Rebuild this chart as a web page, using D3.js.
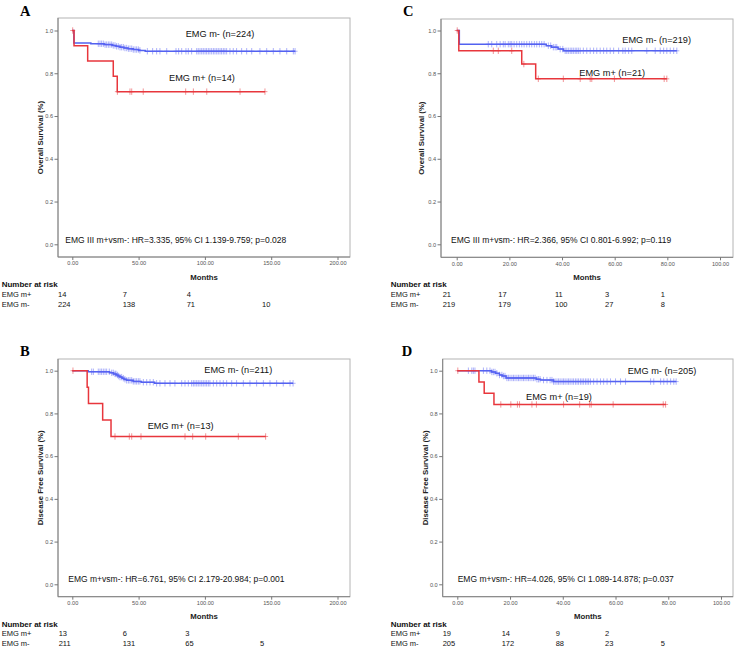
<!DOCTYPE html>
<html><head><meta charset="utf-8">
<script src="https://cdn.jsdelivr.net/npm/d3@7"></script>
<style>
body{margin:0;background:#fff;}
svg{display:block;font-family:"Liberation Sans",Arial,sans-serif;}
</style>
</head><body>
<svg id="chart" width="738" height="648"></svg>
<script>
// ---------------- DATA ----------------
const yTicks = [0, 0.2, 0.4, 0.6, 0.8, 1.0];
const groupNames = ["EMG m+", "EMG m-"];

// Panel A (Overall survival, EMG III)
const aXTicks = [0, 50, 100, 150, 200];
const aPlusT = [0, 1.3, 11.6, 30.9, 33.9];
const aPlusS = [1, 0.929, 0.857, 0.786, 0.714];
const aPlusCens = [0.3, 34, 43.5, 44.8, 53.5, 85.5, 91.3, 101.4, 126.5, 145.3];
const aMinusT = [0, 1.2, 14, 24, 30, 33, 36, 39, 42, 46, 50, 55];
const aMinusS = [1, 0.942, 0.938, 0.934, 0.930, 0.926, 0.922, 0.918, 0.915, 0.911, 0.907, 0.903];
const aMinusCens = [19.6,20.9,22.1,23.4,24.7,25.9,27.2,28.4,29.7,30.9,32.2,33.4,34.7,36.0,37.2,38.5,39.7,41.0,42.3,43.5,44.8,46.0,47.3,48.5,49.8,51.0,56.6,60.6,63.6,66.1,71.2,78.2,80.2,82.5,85.7,87.5,90.0,93.8,95.0,96.3,97.6,98.8,100.1,101.3,102.6,103.8,105.1,106.4,107.6,108.9,110.1,111.4,112.6,113.9,115.1,116.4,118.9,121.4,123.9,127.7,131.5,135.3,141.5,146.6,151.6,156.6,161.7,166.7,168.0];
const aRiskPlus = [14, 7, 4];
const aRiskMinus = [224, 138, 71, 10];
const aLabels = ["EMG m+ (n=14)", "EMG m- (n=224)"];
const aStat = "EMG III m+vsm-: HR=3.335, 95% CI 1.139-9.759; p=0.028";

// Panel B (Disease free survival, EMG III)
const bXTicks = [0, 50, 100, 150, 200];
const bPlusT = [0, 11.2, 12.2, 22.9, 29.2];
const bPlusS = [1, 0.923, 0.846, 0.769, 0.692];
const bPlusCens = [0.5, 32.2, 43.0, 44.8, 51.8, 85.0, 90.8, 100.6, 125.2, 145.8];
const bMinusT = [0, 12, 28, 31, 33, 34.5, 36, 37.5, 39, 41, 46, 52, 62];
const bMinusS = [1, 0.995, 0.99, 0.985, 0.98, 0.975, 0.97, 0.965, 0.96, 0.955, 0.95, 0.946, 0.941];
const bMinusCens = [14.6,15.9,19.6,20.9,22.1,23.4,24.7,25.9,27.9,29.7,30.9,32.2,32.9,34.0,35.0,36.0,37.2,38.5,39.7,41.0,42.3,43.5,44.8,46.0,47.3,48.5,49.8,51.0,53.6,56.1,58.6,61.1,63.6,66.1,69.9,73.7,77.4,82.5,85.0,87.5,90.0,91.3,92.5,93.8,95.0,96.3,97.6,98.8,100.1,101.3,102.6,103.8,106.4,108.9,111.4,113.9,116.4,120.2,123.9,129.0,134.0,139.0,144.1,149.1,154.1,159.1,164.2,166.5];
const bRiskPlus = [13, 6, 3];
const bRiskMinus = [211, 131, 65, 5];
const bLabels = ["EMG m+ (n=13)", "EMG m- (n=211)"];
const bStat = "EMG m+vsm-: HR=6.761, 95% CI 2.179-20.984; p=0.001";

// Panel C (Overall survival)
const cXTicks = [0, 20, 40, 60, 80, 100];
const cPlusT = [0, 0.8, 24.7, 30];
const cPlusS = [1, 0.905, 0.843, 0.774];
const cPlusCens = [0.2, 13.9, 15.8, 20.9, 25.5, 31, 40.5, 46.9, 50.7, 51.3, 59.9, 78.8, 79.8];
const cMinusT = [0, 1, 34, 36, 38.5, 40.5];
const cMinusS = [1, 0.936, 0.929, 0.922, 0.913, 0.905];
const cMinusCens = [12.0,13.3,15.2,16.5,17.7,18.4,19.6,20.3,20.9,21.8,22.8,23.8,24.7,25.6,26.6,27.6,28.5,29.5,30.4,31.4,32.3,33.2,34.8,35.7,36.7,37.4,38.0,39.3,40.3,41.2,41.8,42.4,43.1,43.7,44.3,45.0,45.6,46.2,46.9,48.1,49.4,50.7,52.0,53.2,54.5,55.8,57.0,58.3,59.6,61.5,63.1,64.0,65.3,66.5,72.2,75.4,77.3,78.6,79.8,81.1,82.4,83.6];
const cRiskPlus = [21, 17, 11, 3, 1];
const cRiskMinus = [219, 179, 100, 27, 8];
const cLabels = ["EMG m+ (n=21)", "EMG m- (n=219)"];
const cStat = "EMG III m+vsm-: HR=2.366, 95% CI 0.801-6.992; p=0.119";

// Panel D (Disease free survival)
const dXTicks = [0, 20, 40, 60, 80, 100];
const dPlusT = [0, 8.2, 10.2, 13.9];
const dPlusS = [1, 0.947, 0.895, 0.842];
const dPlusCens = [0.2, 16.5, 20.3, 22.8, 23.6, 28.3, 30, 40.3, 46.4, 50.2, 50.8, 59.1, 78.1, 79.0];
const dMinusT = [0, 13, 14.5, 16, 17, 18.5, 30, 31.5, 36.5];
const dMinusS = [1, 0.994, 0.988, 0.98, 0.975, 0.966, 0.96, 0.956, 0.949];
const dMinusCens = [4.2,5.5,6.1,6.7,9.9,11.2,12.4,13.1,13.7,14.3,15.0,16.0,16.9,17.5,18.1,18.8,19.4,20.0,20.7,21.3,21.9,22.6,23.2,23.8,24.5,25.1,25.7,26.4,27.0,27.6,28.3,28.9,29.5,30.2,30.8,31.4,32.7,34.0,35.2,35.9,36.5,37.1,37.8,38.4,39.0,39.7,40.3,40.9,41.6,42.2,42.8,43.5,44.1,44.8,45.4,46.0,46.7,47.3,47.9,48.6,49.2,49.8,50.5,51.7,53.0,54.3,55.5,56.8,58.1,60.0,61.9,63.8,73.3,74.5,77.1,78.3,79.6,80.9,82.1,83.0];
const dRiskPlus = [19, 14, 9, 2];
const dRiskMinus = [205, 172, 88, 23, 5];
const dLabels = ["EMG m+ (n=19)", "EMG m- (n=205)"];
const dStat = "EMG m+vsm-: HR=4.026, 95% CI 1.089-14.878; p=0.037";

// ---------------- LAYOUT ----------------
const COL_PLUS = "#e8363c", COL_PLUS_C = "rgba(232,60,66,0.55)";
const COL_MINUS = "#5262f0", COL_MINUS_C = "rgba(90,100,245,0.5)";

const panels = [
  {letter:"A", lx:20, ly:16, box:{l:58,r:350,t:18,b:257}, xr:[72.3,337.5], yr:[244.3,30.5],
   xTicks:aXTicks, plus:[aPlusT,aPlusS,aPlusCens], minus:[aMinusT,aMinusS,aMinusCens],
   risk:[aRiskPlus,aRiskMinus], riskX:[58,122.7,186.7,262], labels:aLabels, stat:aStat,
   plusPos:[169,80.5], minusPos:[185.7,36.5], statPos:[65.3,242.5], yTitle:"Overall Survival (%)", yTitleX:40,
   monthsY:280, riskLeft:1.7, riskY:[286.5,296.5,306.5]},
  {letter:"C", lx:403, ly:16, box:{l:441,r:733,t:19,b:257.3}, xr:[456.7,720], yr:[244.3,30.5],
   xTicks:cXTicks, plus:[cPlusT,cPlusS,cPlusCens], minus:[cMinusT,cMinusS,cMinusCens],
   risk:[cRiskPlus,cRiskMinus], riskX:[442.7,498.3,555,605,660.7], labels:cLabels, stat:cStat,
   plusPos:[579.3,76], minusPos:[622.3,43], statPos:[451,242.5], yTitle:"Overall Survival (%)", yTitleX:421.7,
   monthsY:280, riskLeft:390.7, riskY:[286.5,296.5,306.5]},
  {letter:"B", lx:20, ly:356, box:{l:58,r:350,t:359,b:596.7}, xr:[72.3,337.5], yr:[584.3,370.7],
   xTicks:bXTicks, plus:[bPlusT,bPlusS,bPlusCens], minus:[bMinusT,bMinusS,bMinusCens],
   risk:[bRiskPlus,bRiskMinus], riskX:[58.7,122.7,185.3,260], labels:bLabels, stat:bStat,
   plusPos:[147.7,428.5], minusPos:[204.3,373.3], statPos:[68.3,582], yTitle:"Disease Free Survival (%)", yTitleX:40,
   monthsY:619.3, riskLeft:1.7, riskY:[626.5,636,646]},
  {letter:"D", lx:401.7, ly:356, box:{l:442.7,r:733,t:359,b:596.7}, xr:[457.3,721], yr:[584.3,370.7],
   xTicks:dXTicks, plus:[dPlusT,dPlusS,dPlusCens], minus:[dMinusT,dMinusS,dMinusCens],
   risk:[dRiskPlus,dRiskMinus], riskX:[442.7,501.7,555.7,605,660.7], labels:dLabels, stat:dStat,
   plusPos:[526,400], minusPos:[627.7,373.5], statPos:[457.7,582], yTitle:"Disease Free Survival (%)", yTitleX:425.3,
   monthsY:619.3, riskLeft:390.7, riskY:[626.5,636,646]}
];

const svg = d3.select("#chart");

function survAt(T, S, t) {
  let v = S[0];
  for (let i = 0; i < T.length; i++) if (T[i] <= t) v = S[i];
  return v;
}

function drawSeries(g, x, y, T, S, C, col, colC) {
  const end = d3.max(C.concat(T));
  const pts = T.map((t, i) => [t, S[i]]);
  pts.push([end, S[S.length - 1]]);
  const line = d3.line().x(d => x(d[0])).y(d => y(d[1])).curve(d3.curveStepAfter);
  g.append("path").attr("d", line(pts)).attr("fill", "none")
    .attr("stroke", col).attr("stroke-width", 1.5);
  const cg = g.append("g");
  C.forEach(c => {
    const cx = x(c), cy = y(survAt(T, S, c));
    cg.append("line").attr("x1", cx).attr("x2", cx).attr("y1", cy - 3.2).attr("y2", cy + 3.2)
      .attr("stroke", colC).attr("stroke-width", 1);
    cg.append("line").attr("x1", cx - 2.5).attr("x2", cx + 2.5).attr("y1", cy).attr("y2", cy)
      .attr("stroke", colC).attr("stroke-width", 1);
  });
}

panels.forEach(p => {
  const g = svg.append("g");
  const x = d3.scaleLinear().domain([0, d3.max(p.xTicks)]).range(p.xr);
  const y = d3.scaleLinear().domain([0, 1]).range(p.yr);
  const b = p.box;

  g.append("text").attr("x", p.lx).attr("y", p.ly).text(p.letter)
    .attr("font-family", "'Liberation Serif','Times New Roman',serif").attr("font-weight", "bold")
    .attr("font-size", 14.5).attr("fill", "#000");

  g.append("rect").attr("x", b.l).attr("y", b.t).attr("width", b.r - b.l).attr("height", b.b - b.t)
    .attr("fill", "#fff").attr("stroke", "#b4b4b4").attr("stroke-width", 1);
  g.append("line").attr("x1", b.l).attr("x2", b.l).attr("y1", b.t).attr("y2", b.b)
    .attr("stroke", "#808080").attr("stroke-width", 1);
  g.append("line").attr("x1", b.l).attr("x2", b.r).attr("y1", b.b).attr("y2", b.b)
    .attr("stroke", "#808080").attr("stroke-width", 1);

  const ya = g.append("g").attr("transform", `translate(${b.l},0)`)
    .call(d3.axisLeft(y).tickValues(yTicks).tickFormat(d3.format(".1f")).tickSize(3.5).tickPadding(1.5));
  ya.select(".domain").remove();
  ya.selectAll("line").attr("stroke", "#777");
  ya.selectAll("text").attr("font-size", 5.6).attr("fill", "#555").attr("font-family", "'Liberation Sans',Arial,sans-serif");

  const xa = g.append("g").attr("transform", `translate(0,${b.b})`)
    .call(d3.axisBottom(x).tickValues(p.xTicks).tickFormat(d3.format(".2f")).tickSize(3).tickPadding(1.5));
  xa.select(".domain").remove();
  xa.selectAll("line").attr("stroke", "#777");
  xa.selectAll("text").attr("font-size", 5.6).attr("fill", "#555").attr("font-family", "'Liberation Sans',Arial,sans-serif");

  drawSeries(g, x, y, p.minus[0], p.minus[1], p.minus[2], COL_MINUS, COL_MINUS_C);
  drawSeries(g, x, y, p.plus[0], p.plus[1], p.plus[2], COL_PLUS, COL_PLUS_C);

  g.append("text").attr("x", p.minusPos[0]).attr("y", p.minusPos[1]).text(p.labels[1])
    .attr("font-size", 9.2).attr("fill", "#111");
  g.append("text").attr("x", p.plusPos[0]).attr("y", p.plusPos[1]).text(p.labels[0])
    .attr("font-size", 9.2).attr("fill", "#111");
  g.append("text").attr("x", p.statPos[0]).attr("y", p.statPos[1]).text(p.stat)
    .attr("font-size", 8.5).attr("fill", "#111");

  g.append("text").attr("transform", `translate(${p.yTitleX},${(b.t + b.b) / 2}) rotate(-90)`)
    .attr("text-anchor", "middle").attr("dominant-baseline", "central")
    .attr("font-size", 7.8).attr("font-weight", "bold").attr("fill", "#222").text(p.yTitle);

  g.append("text").attr("x", (b.l + b.r) / 2).attr("y", p.monthsY).attr("text-anchor", "middle")
    .attr("font-size", 7.8).attr("font-weight", "bold").attr("fill", "#222").text("Months");

  g.append("text").attr("x", p.riskLeft).attr("y", p.riskY[0]).text("Number at risk")
    .attr("font-size", 8).attr("font-weight", "bold").attr("fill", "#111");
  groupNames.forEach((nm, r) => {
    g.append("text").attr("x", p.riskLeft).attr("y", p.riskY[r + 1]).text(nm)
      .attr("font-size", 7.5).attr("fill", "#111");
    p.risk[r].forEach((v, i) => {
      g.append("text").attr("x", p.riskX[i]).attr("y", p.riskY[r + 1]).text(v)
        .attr("font-size", 7.5).attr("fill", "#111");
    });
  });
});
</script>
</body></html>
